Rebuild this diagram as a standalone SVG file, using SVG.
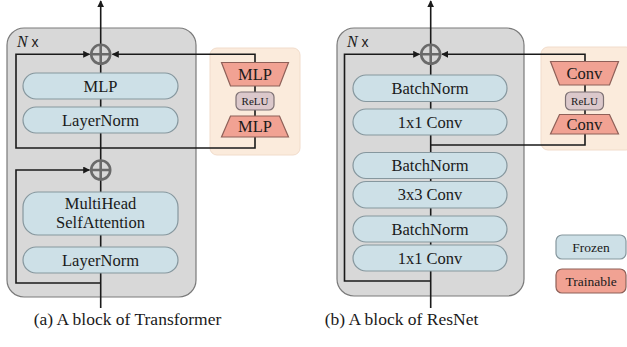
<svg xmlns="http://www.w3.org/2000/svg" width="627" height="347" viewBox="0 0 627 347">
<style>
.panel{fill:#d8d8d8;stroke:#7a7a7a;stroke-width:1.2}
.adapt{fill:#fbebdc;stroke:#f1dccb;stroke-width:1}
.frz{fill:#cde0e7;stroke:#86979e;stroke-width:1.2}
.trn{fill:#f1a293;stroke:#8e6058;stroke-width:1.2}
.relu{fill:#dbc8cb;stroke:#7d7174;stroke-width:1.2}
.ln{fill:none;stroke:#1a1a1a;stroke-width:1.6}
.add{fill:#d8d8d8;stroke:#6a6a6a;stroke-width:2.6}
.t{font-family:"Liberation Serif",serif;fill:#1a1a1a;text-anchor:middle}
.b{font-size:16.5px}
.s{font-size:11px}
.l{font-size:13.5px}
.c{font-size:17.5px}
</style>
<defs>
<marker id="ah" viewBox="0 0 10 10" refX="9" refY="5" markerWidth="7" markerHeight="7" markerUnits="userSpaceOnUse" orient="auto">
<path d="M0,0 L10,5 L0,10 z" fill="#1a1a1a"/>
</marker>
</defs>

<!-- backgrounds -->
<g id="panel-a"><rect class="panel" x="7" y="28" width="189" height="269" rx="17"/>
<text x="17" y="47" font-family="Liberation Serif,serif" font-size="16" fill="#1a1a1a"><tspan font-style="italic">N</tspan><tspan font-family="Liberation Sans,sans-serif" font-size="14"> x</tspan></text></g>
<g id="panel-b"><rect class="panel" x="337" y="28" width="187" height="268" rx="17"/>
<text x="347" y="47" font-family="Liberation Serif,serif" font-size="16" fill="#1a1a1a"><tspan font-style="italic">N</tspan><tspan font-family="Liberation Sans,sans-serif" font-size="14"> x</tspan></text></g>
<g id="adapter-a-bg"><rect class="adapt" x="210" y="48" width="90" height="107" rx="7"/></g>
<g id="adapter-b-bg"><rect class="adapt" x="541" y="47" width="92" height="103" rx="7"/></g>

<!-- connectors -->
<g id="connectors">
<line class="ln" x1="100.7" y1="308" x2="100.7" y2="1" marker-end="url(#ah)"/>
<polyline class="ln" points="100.7,148 16,148 16,54.3 89.5,54.3" marker-end="url(#ah)"/>
<polyline class="ln" points="100.7,148 255,148 255,54.3 112.5,54.3" marker-end="url(#ah)"/>
<polyline class="ln" points="100.7,283 16,283 16,170 89.5,170" marker-end="url(#ah)"/>
<line class="ln" x1="430.7" y1="308" x2="430.7" y2="1" marker-end="url(#ah)"/>
<polyline class="ln" points="430.7,281 344.5,281 344.5,54.3 419.5,54.3" marker-end="url(#ah)"/>
<polyline class="ln" points="430.7,145 585,145 585,54.3 442,54.3" marker-end="url(#ah)"/>
</g>

<!-- add nodes -->
<g id="add-a1"><circle class="add" cx="100.7" cy="54.3" r="9.5"/><path class="add" d="M91.2,54.3H110.2M100.7,44.8V63.8"/></g>
<g id="add-a2"><circle class="add" cx="100.7" cy="170" r="9.5"/><path class="add" d="M91.2,170H110.2M100.7,160.5V179.5"/></g>
<g id="add-b1"><circle class="add" cx="430.7" cy="54.3" r="9.5"/><path class="add" d="M421.2,54.3H440.2M430.7,44.8V63.8"/></g>

<!-- transformer nodes -->
<g id="a-mlp"><rect class="frz" x="23" y="73" width="155" height="26" rx="13"/><text class="t b" x="100.5" y="91.5">MLP</text></g>
<g id="a-ln1"><rect class="frz" x="23" y="107" width="155" height="26" rx="13"/><text class="t b" x="100.5" y="125.5">LayerNorm</text></g>
<g id="a-mhsa"><rect class="frz" x="23" y="192" width="155" height="43" rx="15"/><text class="t b" x="100.5" y="209">MultiHead</text><text class="t b" x="100.5" y="228">SelfAttention</text></g>
<g id="a-ln2"><rect class="frz" x="23" y="247" width="155" height="26" rx="13"/><text class="t b" x="100.5" y="265.5">LayerNorm</text></g>

<!-- transformer adapter -->
<g id="a-up"><path class="trn" d="M221.5,62.5 H288.5 L279.5,86 H230.5 Z"/><text class="t b" x="255" y="80">MLP</text></g>
<g id="a-relu"><rect class="relu" x="236" y="92" width="38" height="18" rx="5"/><text class="t s" x="255" y="105">ReLU</text></g>
<g id="a-down"><path class="trn" d="M230.5,116 H279.5 L288.5,137 H221.5 Z"/><text class="t b" x="255" y="132">MLP</text></g>

<!-- resnet nodes -->
<g id="b-bn1"><rect class="frz" x="353" y="75" width="154" height="26.5" rx="13"/><text class="t b" x="430" y="93.8">BatchNorm</text></g>
<g id="b-c1"><rect class="frz" x="353" y="109" width="154" height="26" rx="13"/><text class="t b" x="430" y="127.5">1x1 Conv</text></g>
<g id="b-bn2"><rect class="frz" x="353" y="152.5" width="154" height="26" rx="13"/><text class="t b" x="430" y="171">BatchNorm</text></g>
<g id="b-c3"><rect class="frz" x="353" y="181.5" width="154" height="26.5" rx="13"/><text class="t b" x="430" y="200.3">3x3 Conv</text></g>
<g id="b-bn3"><rect class="frz" x="353" y="216" width="154" height="26" rx="13"/><text class="t b" x="430" y="234.5">BatchNorm</text></g>
<g id="b-c1b"><rect class="frz" x="353" y="245" width="154" height="26" rx="13"/><text class="t b" x="430" y="263.5">1x1 Conv</text></g>

<!-- resnet adapter -->
<g id="b-up"><path class="trn" d="M550.5,61.5 H618.5 L609.5,85 H559.5 Z"/><text class="t b" x="584.5" y="79">Conv</text></g>
<g id="b-relu"><rect class="relu" x="565.5" y="92" width="38" height="18" rx="5"/><text class="t s" x="584.5" y="105">ReLU</text></g>
<g id="b-down"><path class="trn" d="M559.5,114.5 H609.5 L618.5,134 H550.5 Z"/><text class="t b" x="584.5" y="130">Conv</text></g>

<!-- legend -->
<g id="legend-frozen"><rect class="frz" x="556" y="235" width="70" height="24" rx="6"/><text class="t l" x="591" y="251.5">Frozen</text></g>
<g id="legend-trainable"><rect class="trn" x="556" y="269" width="70" height="24" rx="6"/><text class="t l" x="591" y="285.5">Trainable</text></g>

<!-- captions -->
<text class="t c" x="127.5" y="325">(a) A block of Transformer</text>
<text class="t c" x="401.5" y="325">(b) A block of ResNet</text>
</svg>
